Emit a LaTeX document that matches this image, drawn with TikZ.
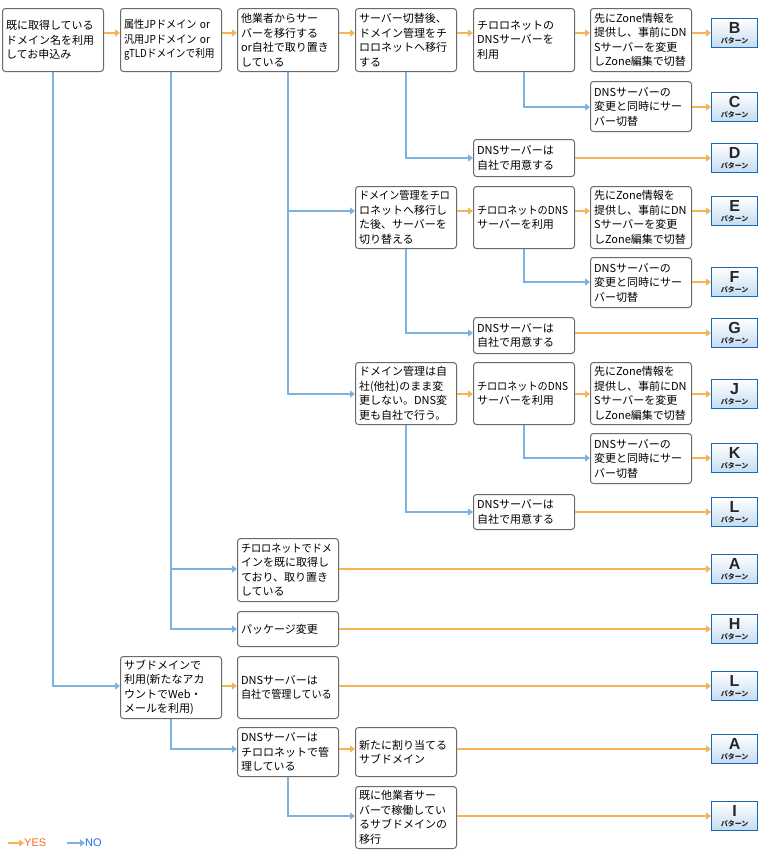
\documentclass[tikz,border=0pt]{standalone}
\usepackage{fontspec}
\setmainfont{Noto Sans CJK JP}
\newfontfamily\badgefont{Liberation Sans}
\usepackage{tikz}
\usetikzlibrary{arrows.meta, positioning}
\definecolor{yesOrange}{RGB}{246,180,86}
\definecolor{noBlue}{RGB}{124,178,226}
\definecolor{boxGray}{RGB}{105,105,105}
\definecolor{patBlue}{RGB}{28,104,176}
\definecolor{patFill}{RGB}{196,220,242}
\definecolor{yesText}{RGB}{240,110,30}
\definecolor{noText}{RGB}{30,110,225}
\newcommand{\tight}[1]{\scalebox{0.92}[1]{#1}}
\newcommand{\tighter}[1]{\scalebox{0.88}[1]{#1}}
\newcommand{\pat}[1]{{\badgefont\bfseries\fontsize{16}{13}\selectfont #1}\\[-2pt]{\bfseries\fontsize{7}{8}\selectfont パターン}}

\begin{document}
\begin{tikzpicture}[x=1pt, y=-1pt,
    boxNode/.style={draw=boxGray, line width=1pt, rounded corners=3pt, anchor=north west, text width=94pt, inner xsep=3.5pt, inner ysep=1pt, align=left, font=\fontsize{11}{14.5}\selectfont},
    patNode/.style={draw=patBlue, line width=1.2pt, top color=white, bottom color=patFill, anchor=west, minimum width=46pt, minimum height=29pt, inner sep=0pt, align=center, text=black!85},
    yesArr/.style={-{Triangle[length=5pt,width=7pt]}, yesOrange, line width=2pt},
    noArr/.style={-{Triangle[length=5pt,width=7pt]}, noBlue, line width=2pt}
]
    \useasboundingbox (0,0) rectangle (760,860);

    % Top row
    \node[boxNode, minimum height=63pt] (q1) at (2,8)   {既に取得している\\ドメイン名を利用\\してお申込み};
    \node[boxNode, minimum height=63pt] (q2) at (120,8) {\tight{属性JPドメイン or}\\\tight{汎用JPドメイン or}\\\tighter{gTLDドメインで利用}};
    \node[boxNode, minimum height=63pt] (q3) at (237,8) {他業者からサー\\バーを移行する\\or自社で取り置き\\している};
    \node[boxNode, minimum height=63pt] (b4) at (355,8) {サーバー切替後、\\ドメイン管理をチ\\ロロネットへ移行\\する};
    \node[boxNode, minimum height=63pt] (b5) at (473,8) {チロロネットの\\DNSサーバーを\\利用};
    \node[boxNode, minimum height=63pt] (b6) at (590,8) {先にZone情報を\\提供し、事前にDN\\Sサーバーを変更\\しZone編集で切替};
    \node[boxNode, minimum height=50pt] (c6) at (590,81) {DNSサーバーの\\変更と同時にサー\\バー切替};
    \node[boxNode, minimum height=37pt] (d5) at (473,139) {DNSサーバーは\\自社で用意する};

    % Move domain first
    \node[boxNode, minimum height=62pt] (e4) at (355,186) {\tight{ドメイン管理をチロ}\\ロネットへ移行し\\た後、サーバーを\\切り替える};
    \node[boxNode, minimum height=62pt] (e5) at (473,186) {\tight{チロロネットのDNS}\\サーバーを利用};
    \node[boxNode, minimum height=62pt] (e6) at (590,186) {先にZone情報を\\提供し、事前にDN\\Sサーバーを変更\\しZone編集で切替};
    \node[boxNode, minimum height=50pt] (f6) at (590,257) {DNSサーバーの\\変更と同時にサー\\バー切替};
    \node[boxNode, minimum height=36pt] (g5) at (473,317) {DNSサーバーは\\自社で用意する};

    % Domain stays
    \node[boxNode, minimum height=62pt] (j4) at (355,362) {ドメイン管理は自\\社(他社)のまま変\\更しない。DNS変\\更も自社で行う。};
    \node[boxNode, minimum height=62pt] (j5) at (473,362) {\tight{チロロネットのDNS}\\サーバーを利用};
    \node[boxNode, minimum height=62pt] (j6) at (590,362) {先にZone情報を\\提供し、事前にDN\\Sサーバーを変更\\しZone編集で切替};
    \node[boxNode, minimum height=50pt] (k6) at (590,433) {DNSサーバーの\\変更と同時にサー\\バー切替};
    \node[boxNode, minimum height=35pt] (l5) at (473,494) {DNSサーバーは\\自社で用意する};

    % Other cases
    \node[boxNode, minimum height=63pt] (a3) at (237,538) {\tight{チロロネットでドメ}\\インを既に取得し\\ており、取り置き\\している};
    \node[boxNode, minimum height=35pt] (h3) at (237,611) {パッケージ変更};
    \node[boxNode, minimum height=62pt] (s2) at (120,656) {サブドメインで\\利用(新たなアカ\\ウントでWeb・\\メールを利用)};
    \node[boxNode, minimum height=62pt] (s3) at (237,656) {DNSサーバーは\\\tight{自社で管理している}};
    \node[boxNode, minimum height=49pt] (t3) at (237,727) {DNSサーバーは\\チロロネットで管\\理している};
    \node[boxNode, minimum height=49pt] (t4) at (355,727) {新たに割り当てる\\サブドメイン};
    \node[boxNode, minimum height=62pt] (u4) at (355,786) {既に他業者サー\\バーで稼働してい\\るサブドメインの\\移行};

    % Patterns
    \node[patNode] (pB)  at (711,33)  {\pat{B}};
    \node[patNode] (pC)  at (711,107) {\pat{C}};
    \node[patNode] (pD)  at (711,158) {\pat{D}};
    \node[patNode] (pE)  at (711,211) {\pat{E}};
    \node[patNode] (pF)  at (711,282) {\pat{F}};
    \node[patNode] (pG)  at (711,333) {\pat{G}};
    \node[patNode] (pJ)  at (711,394) {\pat{J}};
    \node[patNode] (pK)  at (711,458) {\pat{K}};
    \node[patNode] (pL)  at (711,512) {\pat{L}};
    \node[patNode] (pA)  at (711,569) {\pat{A}};
    \node[patNode] (pH)  at (711,629) {\pat{H}};
    \node[patNode] (pL2) at (711,686) {\pat{L}};
    \node[patNode] (pA2) at (711,749) {\pat{A}};
    \node[patNode] (pI)  at (711,816) {\pat{I}};

    % YES
    \draw[yesArr] (q1.east |- pB) -- (q2.west |- pB);
    \draw[yesArr] (q2.east |- pB) -- (q3.west |- pB);
    \draw[yesArr] (q3.east |- pB) -- (b4.west |- pB);
    \draw[yesArr] (b4.east |- pB) -- (b5.west |- pB);
    \draw[yesArr] (b5.east |- pB) -- (b6.west |- pB);
    \draw[yesArr] (b6.east |- pB) -- (pB.west);
    \draw[yesArr] (c6.east |- pC) -- (pC.west);
    \draw[yesArr] (d5.east |- pD) -- (pD.west);
    \draw[yesArr] (e4.east |- pE) -- (e5.west |- pE);
    \draw[yesArr] (e5.east |- pE) -- (e6.west |- pE);
    \draw[yesArr] (e6.east |- pE) -- (pE.west);
    \draw[yesArr] (f6.east |- pF) -- (pF.west);
    \draw[yesArr] (g5.east |- pG) -- (pG.west);
    \draw[yesArr] (j4.east |- pJ) -- (j5.west |- pJ);
    \draw[yesArr] (j5.east |- pJ) -- (j6.west |- pJ);
    \draw[yesArr] (j6.east |- pJ) -- (pJ.west);
    \draw[yesArr] (k6.east |- pK) -- (pK.west);
    \draw[yesArr] (l5.east |- pL) -- (pL.west);
    \draw[yesArr] (a3.east |- pA) -- (pA.west);
    \draw[yesArr] (h3.east |- pH) -- (pH.west);
    \draw[yesArr] (s2.east |- pL2) -- (s3.west |- pL2);
    \draw[yesArr] (s3.east |- pL2) -- (pL2.west);
    \draw[yesArr] (t3.east |- pA2) -- (t4.west |- pA2);
    \draw[yesArr] (t4.east |- pA2) -- (pA2.west);
    \draw[yesArr] (u4.east |- pI) -- (pI.west);

    % NO
    \draw[noArr] (q1.south) |- (s2.west |- pL2);
    \draw[noArr] (q2.south) |- (a3.west |- pA);
    \draw[noArr] (q2.south) |- (h3.west |- pH);
    \draw[noArr] (q3.south) |- (e4.west |- pE);
    \draw[noArr] (q3.south) |- (j4.west |- pJ);
    \draw[noArr] (b4.south) |- (d5.west |- pD);
    \draw[noArr] (b5.south) |- (c6.west |- pC);
    \draw[noArr] (e4.south) |- (g5.west |- pG);
    \draw[noArr] (e5.south) |- (f6.west |- pF);
    \draw[noArr] (j4.south) |- (l5.west |- pL);
    \draw[noArr] (j5.south) |- (k6.west |- pK);
    \draw[noArr] (s2.south) |- (t3.west |- pA2);
    \draw[noArr] (t3.south) |- (u4.west |- pI);

    % Legend
    \coordinate (yesS) at (8,843);
    \coordinate (noS) at (67,843);
    \node[anchor=west, inner sep=0pt, text=yesText, font=\badgefont\fontsize{11}{12}\selectfont] (yesT) at (24,843) {YES};
    \node[anchor=west, inner sep=0pt, text=noText, font=\badgefont\fontsize{11}{12}\selectfont] (noT) at (85,843) {NO};
    \draw[yesArr] (yesS) -- (yesT.west);
    \draw[noArr] (noS) -- (noT.west);
\end{tikzpicture}
\end{document}
